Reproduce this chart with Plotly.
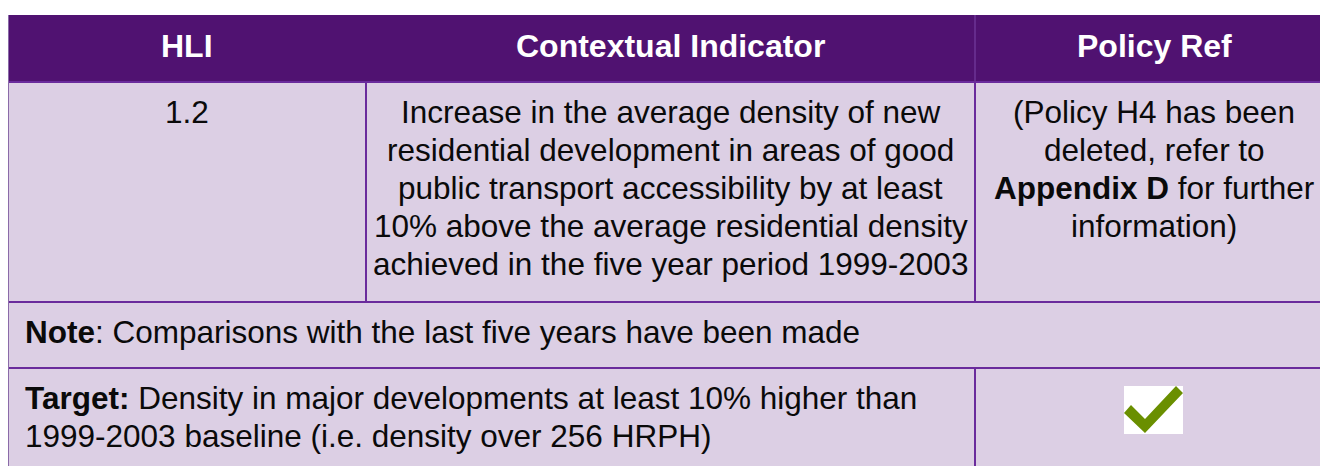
import plotly.graph_objects as go

# ---- table content ----
headers = ["HLI", "Contextual Indicator", "Policy Ref"]
hli_value = "1.2"
indicator_lines = [
    "Increase in the average density of new",
    "residential development in areas of good",
    "public transport accessibility by at least",
    "10% above the average residential density",
    "achieved in the five year period 1999-2003",
]
policy_lines = [
    "(Policy H4 has been",
    "deleted, refer to",
    "<b>Appendix D</b> for further",
    "information)",
]
note_label = "Note"
note_text = ": Comparisons with the last five years have been made"
target_label = "Target:"
target_lines = [
    " Density in major developments at least 10% higher than",
    "1999-2003 baseline (i.e. density over 256 HRPH)",
]
target_met = True

# ---- geometry / style ----
W, H = 1320, 466
col_edges = [8, 366, 975, 1340]
row_edges = [15, 82, 302, 368, 480]
HEADER_BG = "#501271"
CELL_BG = "#dccfe4"
LINE = "#6a2b9c"
FONT = "Liberation Sans, Arial, sans-serif"
BODY = 31.5
HEAD = 32
LINE_STEP = 38
TXT = "#0a0a0a"

fig = go.Figure()
shapes = []
shapes.append(dict(type="rect", x0=col_edges[0], x1=col_edges[-1], y0=row_edges[0], y1=row_edges[1],
                   fillcolor=HEADER_BG, line=dict(width=0), layer="below"))
shapes.append(dict(type="rect", x0=col_edges[0], x1=col_edges[-1], y0=row_edges[1], y1=row_edges[-1],
                   fillcolor=CELL_BG, line=dict(width=0), layer="below"))
for y in row_edges[1:4]:
    shapes.append(dict(type="line", x0=col_edges[0], x1=col_edges[-1], y0=y, y1=y,
                       line=dict(color=LINE, width=2)))
shapes.append(dict(type="line", x0=col_edges[0] + 0.5, x1=col_edges[0] + 0.5, y0=row_edges[0], y1=row_edges[-1],
                   line=dict(color="#8a6aa8", width=1)))
shapes.append(dict(type="line", x0=col_edges[1], x1=col_edges[1], y0=row_edges[1], y1=row_edges[2],
                   line=dict(color=LINE, width=2)))
shapes.append(dict(type="line", x0=col_edges[2], x1=col_edges[2], y0=row_edges[0], y1=row_edges[1],
                   line=dict(color="#6d3596", width=1.5)))
shapes.append(dict(type="line", x0=col_edges[2], x1=col_edges[2], y0=row_edges[1], y1=row_edges[2],
                   line=dict(color=LINE, width=2)))
shapes.append(dict(type="line", x0=col_edges[2], x1=col_edges[2], y0=row_edges[3], y1=row_edges[4],
                   line=dict(color=LINE, width=2)))

if target_met:
    bx0, by0, bw, bh = 1124, 386, 59, 48
    shapes.append(dict(type="rect", x0=bx0, x1=bx0 + bw, y0=by0, y1=by0 + bh,
                       fillcolor="white", line=dict(width=0)))
    pts = [(7, 19), (21, 33), (52, 0), (59, 7), (21, 47), (0, 27)]
    path = "M " + " L ".join(f"{bx0 + px},{by0 + py}" for px, py in pts) + " Z"
    shapes.append(dict(type="path", path=path, fillcolor="#6a8f00", line=dict(width=0)))

ann = []


def add(x, y, text, size=BODY, color=TXT, anchor="center"):
    ann.append(dict(x=x, y=y, text=text, showarrow=False, xanchor=anchor, yanchor="middle",
                    align=anchor if anchor != "center" else "center",
                    font=dict(family=FONT, size=size, color=color)))


centers = [(col_edges[i] + min(col_edges[i + 1], 1333)) / 2 for i in range(3)]
for c, h in zip(centers, headers):
    add(c, 46, f"<b>{h}</b>", size=HEAD, color="white")
first = 112
add(centers[0], first, hli_value)
for i, line in enumerate(indicator_lines):
    add(centers[1], first + LINE_STEP * i, line)
for i, line in enumerate(policy_lines):
    add(centers[2], first + LINE_STEP * i, line)
add(23, 332, f"<b>{note_label}</b>{note_text}", anchor="left")
for i, line in enumerate(target_lines):
    txt = (f"<b>{target_label}</b>" + line) if i == 0 else line
    add(23, 398 + LINE_STEP * i, txt, anchor="left")

fig.update_layout(
    width=W, height=H, margin=dict(l=0, r=0, t=0, b=0),
    paper_bgcolor="white", plot_bgcolor="white",
    xaxis=dict(range=[0, W], visible=False, fixedrange=True),
    yaxis=dict(range=[H, 0], visible=False, fixedrange=True),
    shapes=shapes, annotations=ann, showlegend=False,
)
fig.write_html("out.html", config={"displayModeBar": False},
               post_script="document.body.style.margin='0px';")
